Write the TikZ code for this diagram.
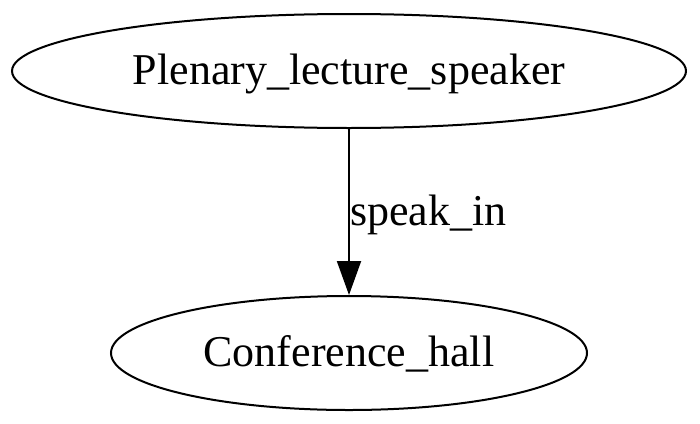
\documentclass[tikz,border=0pt]{standalone}
\usepackage{fontspec}
\setmainfont{Liberation Serif}
\usetikzlibrary{shapes.geometric,arrows.meta}
\begin{document}
\begin{tikzpicture}[x=1pt,y=-1pt,
every node/.style = {font=\fontsize{44}{50}\selectfont},
entity/.style = {draw, ellipse, line width=2pt, inner sep=0pt, minimum height=114pt, text height=36pt, text depth=10pt},
link/.style = {line width=2pt, -{Triangle[length=34pt,width=24pt]}}
]
\useasboundingbox (0,0) rectangle (700,423);
\node[entity, minimum width=674pt] (speaker) at (349,71) {Plenary\_lecture\_speaker};
\node[entity, minimum width=476pt] (hall) at (349,353) {Conference\_hall};
\draw[link] (speaker) -- node[right, inner sep=0pt, yshift=-3pt] {speak\_in} (hall);
\end{tikzpicture}
\end{document}
